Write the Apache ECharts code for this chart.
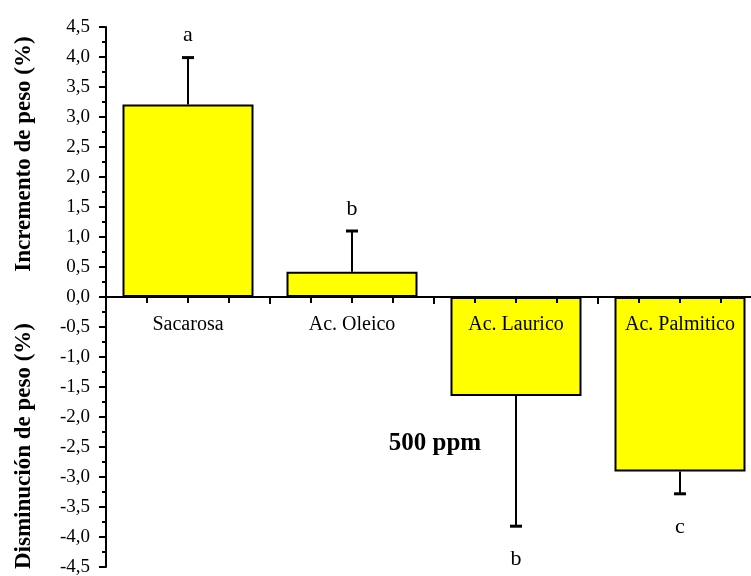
<!DOCTYPE html>
<html lang="es">
<head>
<meta charset="UTF-8">
<title>Peso 500 ppm</title>
<script src="https://cdn.jsdelivr.net/npm/echarts@6/dist/echarts.min.js"></script>
<style>
  html, body { margin: 0; padding: 0; background: #fff; }
  #main { width: 751px; height: 576px; }
</style>
</head>
<body>
<div id="main"></div>
<script>
// datos
var categorias = ['Sacarosa', 'Ac. Oleico', 'Ac. Laurico', 'Ac. Palmitico'];
var medias = [3.21, 0.42, -1.65, -2.91];
var extremoError = [3.99, 1.10, -3.82, -3.28];
var letras = ['a', 'b', 'b', 'c'];

var fuente = 'Liberation Serif';
var myChart = echarts.init(document.getElementById('main'));

var datosError = [];
for (var i = 0; i < categorias.length; i++) {
  datosError.push([i, medias[i], extremoError[i]]);
}

function coma(v) {
  return v.toFixed(1).replace('.', ',');
}

// rejilla 0: barras; rejilla 1: mitad superior, su borde inferior es la linea del cero
var option = {
  animation: false,
  backgroundColor: '#fff',
  grid: [
    { left: 106, right: -11, top: 27, bottom: 9, containLabel: false, outerBoundsMode: 'none' },
    { left: 106, right: -11, top: 27, height: 270, containLabel: false, outerBoundsMode: 'none' }
  ],
  xAxis: [{
    type: 'category',
    gridIndex: 0,
    data: categorias,
    show: false
  }, {
    type: 'category',
    gridIndex: 1,
    data: categorias,
    position: 'bottom',
    z: 10,
    axisLine: { show: false },
    axisTick: { show: false },
    axisLabel: { color: '#000', fontFamily: fuente, fontSize: 20, margin: 18 },
    splitLine: { show: false }
  }, {
    type: 'value',
    gridIndex: 1,
    position: 'bottom',
    min: 0,
    max: 4,
    interval: 1,
    z: 10,
    axisLine: { show: true, onZero: false, lineStyle: { color: '#000', width: 2 } },
    axisTick: { show: true, length: 7, lineStyle: { color: '#000', width: 2 } },
    minorTick: { show: true, splitNumber: 4, length: 6, lineStyle: { color: '#000', width: 2 } },
    axisLabel: { show: false },
    splitLine: { show: false }
  }],
  yAxis: [{
    type: 'value',
    gridIndex: 0,
    min: -4.5,
    max: 4.5,
    interval: 0.5,
    axisLine: { show: true, onZero: false, lineStyle: { color: '#000', width: 2 } },
    axisTick: { show: true, length: 7, lineStyle: { color: '#000', width: 2 } },
    minorTick: { show: true, splitNumber: 2, length: 4, lineStyle: { color: '#000', width: 2 } },
    axisLabel: {
      color: '#000', fontFamily: fuente, fontSize: 19, margin: 16,
      formatter: function (v) { return coma(v); }
    },
    splitLine: { show: false }
  }, {
    type: 'value',
    gridIndex: 1,
    min: 0,
    max: 4.5,
    show: false
  }],
  graphic: [{
    type: 'text', x: 24, y: 154, rotation: Math.PI / 2,
    style: { text: 'Incremento de peso (%)', fill: '#000', font: 'bold 23px "Liberation Serif"', align: 'center', verticalAlign: 'middle' }
  }, {
    type: 'text', x: 24, y: 446, rotation: Math.PI / 2,
    style: { text: 'Disminución de peso (%)', fill: '#000', font: 'bold 23px "Liberation Serif"', align: 'center', verticalAlign: 'middle' }
  }, {
    type: 'text', x: 435, y: 444,
    style: { text: '500 ppm', fill: '#000', font: 'bold 25px "Liberation Serif"', align: 'center', verticalAlign: 'middle' }
  }],
  series: [{
    type: 'bar',
    xAxisIndex: 0,
    yAxisIndex: 0,
    data: medias,
    barWidth: 131,
    itemStyle: { color: '#ffff00', borderColor: '#000', borderWidth: 2 }
  }, {
    type: 'custom',
    xAxisIndex: 0,
    yAxisIndex: 0,
    z: 5,
    data: datosError,
    renderItem: function (params, api) {
      var p0 = api.coord([api.value(0), api.value(1)]);
      var p1 = api.coord([api.value(0), api.value(2)]);
      var arriba = p1[1] < p0[1];
      var letra = letras[params.dataIndex];
      return {
        type: 'group',
        children: [{
          type: 'line',
          shape: { x1: p0[0], y1: p0[1], x2: p1[0], y2: p1[1] },
          style: { stroke: '#000', lineWidth: 2 }
        }, {
          type: 'line',
          shape: { x1: p1[0] - 6, y1: p1[1], x2: p1[0] + 6, y2: p1[1] },
          style: { stroke: '#000', lineWidth: 3 }
        }, {
          type: 'text',
          x: p1[0], y: arriba ? p1[1] - 22 : p1[1] + 33,
          style: { text: letra, fill: '#000', font: '22px "Liberation Serif"', align: 'center', verticalAlign: 'middle' }
        }]
      };
    }
  }]
};
myChart.setOption(option);
</script>
</body>
</html>
